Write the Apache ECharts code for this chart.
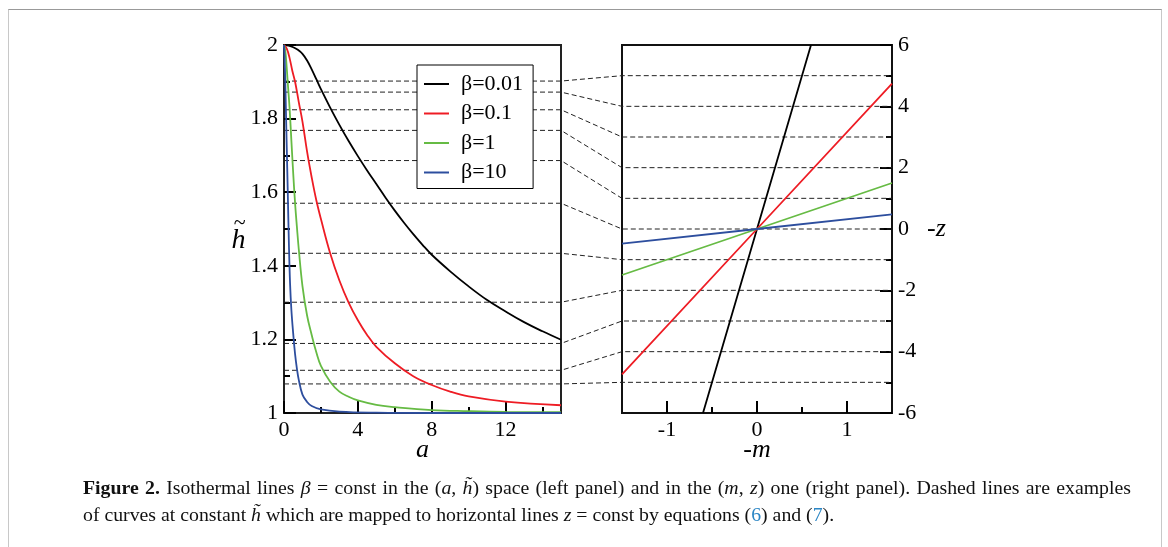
<!DOCTYPE html>
<html>
<head>
<meta charset="utf-8">
<script src="https://cdn.jsdelivr.net/npm/echarts@6/dist/echarts.min.js"></script>
<style>
  body { margin: 0; background: #fff; }
  #frame { position: absolute; left: 8px; top: 9px; width: 1152px; height: 560px;
           border: 1px solid #c8c8c8; border-top-color: #999; }
  #chart { position: absolute; left: 0; top: 0; width: 1168px; height: 547px; }
  .cap { position: absolute; left: 83px; font-family: "Liberation Serif", "Times New Roman", serif;
         font-size: 19.8px; line-height: 27px; color: #111; white-space: nowrap; }
  #cap1 { top: 474px; width: 1048px; text-align: justify; text-align-last: justify; }
  #cap2 { top: 501px; }
  .ref { color: #2b86c5; }
</style>
</head>
<body>
<div id="frame"></div>
<div id="chart"></div>
<div class="cap" id="cap1"><b>Figure 2.</b> Isothermal lines <i>β</i> = const in the (<i>a</i>, <i>h̃</i>) space (left panel) and in the (<i>m</i>, <i>z</i>) one (right panel). Dashed lines are examples</div>
<div class="cap" id="cap2">of curves at constant <i>h̃</i> which are mapped to horizontal lines <i>z</i> = const by equations (<span class="ref">6</span>) and (<span class="ref">7</span>).</div>
<script>
var names = ['β=0.01', 'β=0.1', 'β=1', 'β=10'];
var colors = ['#000000', '#ee1c24', '#66bb44', '#2d4e9e'];

// left panel: h~ against a
var curveB001 = [[0, 2.0], [0.25, 1.998], [0.5, 1.994], [0.75, 1.987], [1, 1.976], [1.25, 1.958], [1.5, 1.934],
    [1.75, 1.907], [2, 1.88], [2.5, 1.83], [3, 1.783], [3.5, 1.739], [4, 1.698], [4.5, 1.659], [5, 1.622],
    [5.5, 1.585], [6, 1.55], [6.5, 1.517], [7, 1.486], [7.5, 1.457], [8, 1.43], [9, 1.385], [10, 1.344],
    [11, 1.307], [12, 1.276], [13, 1.247], [14, 1.222], [15, 1.199]];
var curveB01 = [[0, 2.0], [0.15, 1.99], [0.3, 1.965], [0.45, 1.93], [0.6, 1.9], [0.8, 1.845], [1, 1.792],
    [1.25, 1.71], [1.5, 1.64], [1.75, 1.578], [2, 1.527], [2.5, 1.434], [3, 1.36], [3.5, 1.3], [4, 1.252],
    [4.5, 1.212], [5, 1.18], [6, 1.135], [7, 1.1], [8, 1.076], [9, 1.058], [10, 1.045], [12, 1.031], [15, 1.021]];
var curveB1 = [[0, 2.0], [0.05, 1.99], [0.1, 1.97], [0.2, 1.9], [0.3, 1.83], [0.4, 1.74], [0.5, 1.65],
    [0.6, 1.57], [0.7, 1.505], [0.8, 1.445], [1, 1.345], [1.25, 1.265], [1.5, 1.212], [1.75, 1.165],
    [2, 1.128], [2.5, 1.085], [3, 1.058], [3.5, 1.044], [4, 1.034], [5, 1.022], [6, 1.016], [8, 1.008],
    [10, 1.005], [12, 1.003], [15, 1.002]];
var curveB10 = [[0, 2.0], [0.03, 1.97], [0.07, 1.9], [0.1, 1.83], [0.15, 1.72], [0.2, 1.61], [0.27, 1.45],
    [0.33, 1.35], [0.4, 1.28], [0.5, 1.215], [0.6, 1.16], [0.7, 1.12], [0.8, 1.09], [1, 1.05], [1.25, 1.03],
    [1.5, 1.019], [2, 1.01], [3, 1.004], [5, 1.001], [8, 1.0], [15, 1.0]];

// right panel: -z against -m
var lineB001 = [[-0.6, -6], [0, 0], [0.6, 6]];
var lineB01 = [[-1.5, -4.74], [0, 0], [1.5, 4.74]];
var lineB1 = [[-1.5, -1.5], [0, 0], [1.5, 1.5]];
var lineB10 = [[-1.5, -0.475], [0, 0], [1.5, 0.475]];

// dashed constant-h~ lines and the z they map to
var hLevels = [1.902, 1.872, 1.824, 1.768, 1.686, 1.570, 1.434, 1.301, 1.189, 1.116, 1.079];
var zLevels = [5, 4, 3, 2, 1, 0, -1, -2, -3, -4, -5];

var aMajor = [0, 4, 8, 12];
var aMinor = [2, 6, 10, 14];
var mMajor = [-1, 0, 1];
var mMinor = [-0.5, 0.5];

var serif = '"Liberation Serif", "Times New Roman", serif';
var tickStyle = { color: '#000', width: 2 };
var labelStyle = { color: '#000', fontFamily: serif, fontSize: 22 };

var chart = echarts.init(document.getElementById('chart'));

function xAxisPair(grid, min, max, major, minor, name) {
    return [{
        gridIndex: grid, type: 'value', min: min, max: max, position: 'bottom',
        axisLine: { show: false, onZero: false }, splitLine: { show: false },
        axisTick: { inside: true, length: 12, lineStyle: tickStyle, customValues: major },
        axisLabel: Object.assign({ margin: 6, customValues: major }, labelStyle),
        name: name, nameLocation: 'middle', nameGap: 24, nameMoveOverlap: false,
        nameTextStyle: { color: '#000', fontFamily: serif, fontSize: 26, fontStyle: 'italic' }
    }, {
        gridIndex: grid, type: 'value', min: min, max: max, position: 'bottom',
        axisLine: { show: false, onZero: false }, splitLine: { show: false },
        axisTick: { inside: true, length: 6, lineStyle: tickStyle, customValues: minor },
        axisLabel: { show: false }
    }];
}

var series = [];
[curveB001, curveB01, curveB1, curveB10].forEach(function (d, i) {
    series.push({
        name: names[i], type: 'line', xAxisIndex: 0, yAxisIndex: 0, data: d,
        smooth: 0.4, symbol: 'none', z: 3,
        lineStyle: { color: colors[i], width: 1.8 }, itemStyle: { color: colors[i] }
    });
});
[lineB001, lineB01, lineB1, lineB10].forEach(function (d, i) {
    series.push({
        name: names[i], type: 'line', xAxisIndex: 2, yAxisIndex: 1, data: d,
        symbol: 'none', z: 3, clip: true,
        lineStyle: { color: colors[i], width: 1.8 }, itemStyle: { color: colors[i] }
    });
});
series.push({
    type: 'custom', xAxisIndex: 2, yAxisIndex: 1, z: 1, silent: true,
    data: hLevels.map(function (h, i) { return [0, zLevels[i], h]; }),
    encode: { x: 0, y: 1 },
    renderItem: function (params, api) {
        var z = api.value(1), h = api.value(2);
        var p0 = chart.convertToPixel({ gridIndex: 0 }, [0, h]);
        var p1 = chart.convertToPixel({ gridIndex: 0 }, [15, h]);
        var p2 = api.coord([-1.5, z]);
        var p3 = api.coord([1.5, z]);
        return {
            type: 'polyline', shape: { points: [p0, p1, p2, p3] },
            style: { stroke: '#222', fill: null, lineWidth: 1, lineDash: [5, 3] }
        };
    }
});

chart.setOption({
    animation: false,
    grid: [
        { left: 284, top: 45, width: 277, height: 368, show: true, borderColor: '#222', borderWidth: 2 },
        { left: 622, top: 45, width: 270, height: 368, show: true, borderColor: '#111', borderWidth: 2 }
    ],
    xAxis: xAxisPair(0, 0, 15, aMajor, aMinor, 'a').concat(xAxisPair(1, -1.5, 1.5, mMajor, mMinor, '-m')),
    yAxis: [{
        gridIndex: 0, type: 'value', min: 1, max: 2, interval: 0.2, position: 'left',
        axisLine: { show: false, onZero: false }, splitLine: { show: false },
        axisTick: { inside: true, length: 12, lineStyle: tickStyle },
        minorTick: { show: true, splitNumber: 2, length: 6, lineStyle: tickStyle },
        axisLabel: Object.assign({ margin: 6 }, labelStyle),
        name: '{t|~}\n{h|h}', nameLocation: 'middle', nameRotate: 0, nameGap: 38,
        nameTextStyle: {
            color: '#000', fontFamily: serif, padding: [16, 0, 0, 0],
            rich: {
                t: { fontSize: 22, lineHeight: 8, fontFamily: serif, color: '#000', padding: [0, 0, 0, 6] },
                h: { fontSize: 28, lineHeight: 28, fontFamily: serif, fontStyle: 'italic', color: '#000' }
            }
        }
    }, {
        gridIndex: 1, type: 'value', min: -6, max: 6, interval: 2, position: 'right',
        axisLine: { show: false, onZero: false }, splitLine: { show: false },
        axisTick: { inside: true, length: 12, lineStyle: tickStyle },
        minorTick: { show: true, splitNumber: 2, length: 6, lineStyle: tickStyle },
        axisLabel: Object.assign({ margin: 6 }, labelStyle),
        name: '-z', nameLocation: 'middle', nameRotate: 0, nameGap: 35,
        nameTextStyle: { color: '#000', fontFamily: serif, fontSize: 26, fontStyle: 'italic' }
    }],
    legend: {
        data: names.map(function (n) {
            return { name: n, icon: 'path://M0,0h25v2h-25z' };
        }),
        orient: 'vertical', left: 417, top: 65,
        backgroundColor: '#fff', borderColor: '#000', borderWidth: 1, borderRadius: 0,
        padding: [8, 10, 5, 7], itemWidth: 25, itemHeight: 20, itemGap: 7.5,
        textStyle: { color: '#000', fontFamily: serif, fontSize: 22, lineHeight: 20, padding: [0, 0, 0, 7] }
    },
    series: series
});
</script>
</body>
</html>
